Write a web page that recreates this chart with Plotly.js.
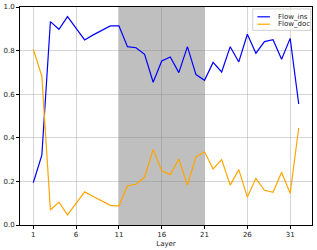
<!DOCTYPE html>
<html><head><meta charset="utf-8">
<script src="https://cdn.plot.ly/plotly-3.0.1.min.js"></script>
<style>html,body{margin:0;padding:0;background:#fff}</style>
</head><body><div id="chart" style="width:317px;height:250px"></div>
<script>
const layers = Array.from({length:32},(_,i)=>i+1);
const flowIns = [0.194,0.32,0.933,0.898,0.956,0.902,0.849,0.872,0.893,0.913,0.914,0.818,0.813,0.783,0.655,0.752,0.771,0.699,0.818,0.690,0.664,0.746,0.702,0.818,0.748,0.875,0.788,0.841,0.850,0.760,0.856,0.555];
const flowDoc = [0.806,0.683,0.069,0.105,0.046,0.099,0.152,0.131,0.110,0.090,0.087,0.180,0.187,0.220,0.347,0.249,0.231,0.303,0.183,0.312,0.336,0.257,0.300,0.183,0.254,0.128,0.214,0.159,0.150,0.242,0.145,0.445];
const seriesNames = ['Flow_ins','Flow_doc'];
const seriesColors = ['#0000ff','#ffa500'];
const tickVals = [1,6,11,16,21,26,31];
const yTicks = [0.0,0.2,0.4,0.6,0.8,1.0];
const yTickText = ['0.0','0.2','0.4','0.6','0.8','1.0'];
const shadeStart = 11, shadeEnd = 21;

const fnt = {family:'DejaVu Sans', size:7, color:'#222'};
const gridc = 'rgba(128,128,128,0.33)';

const shapes = [
  {type:'rect', xref:'x', yref:'paper', x0:shadeStart, x1:shadeEnd, y0:0, y1:1, fillcolor:'#bfbfbf', line:{width:0}, layer:'below'},
  {type:'rect', xref:'paper', yref:'paper', x0:0.797, x1:0.996, y0:0.893, y1:0.991, fillcolor:'rgba(255,255,255,0.85)', line:{color:'#d0d0d0', width:1}, layer:'above'}
];
const legY = [0.955, 0.921];
const annotations = [];
seriesNames.forEach((n,i)=>{
  shapes.push({type:'line', xref:'paper', yref:'paper', x0:0.813, x1:0.856, y0:legY[i], y1:legY[i], line:{color:seriesColors[i], width:1.2}, layer:'above'});
  annotations.push({xref:'paper', yref:'paper', x:0.877, y:legY[i], xanchor:'left', yanchor:'middle', text:n, showarrow:false, font:fnt});
});

Plotly.newPlot('chart', [
  {x:layers, y:flowIns, type:'scatter', mode:'lines', name:seriesNames[0], line:{color:seriesColors[0], width:1.2}},
  {x:layers, y:flowDoc, type:'scatter', mode:'lines', name:seriesNames[1], line:{color:seriesColors[1], width:1.2}}
], {
  width:317, height:250,
  margin:{l:20, r:5, t:7, b:25},
  paper_bgcolor:'#fff', plot_bgcolor:'#fff',
  font:fnt,
  showlegend:false,
  xaxis:{range:[-0.55,33.55], tickvals:tickVals, ticktext:tickVals.map(String), showgrid:true, gridcolor:gridc, gridwidth:1, zeroline:false, showline:true, linecolor:'#000', linewidth:1, mirror:true, ticks:'outside', ticklen:3, tickcolor:'#000', title:{text:'Layer', font:fnt, standoff:2}, automargin:false},
  yaxis:{range:[0,1], tickvals:yTicks, ticktext:yTickText, showgrid:true, gridcolor:gridc, gridwidth:1, zeroline:false, showline:true, linecolor:'#000', linewidth:1, mirror:true, ticks:'outside', ticklen:3, tickcolor:'#000', automargin:false},
  shapes:shapes,
  annotations:annotations
}, {displayModeBar:false, staticPlot:true});
</script></body></html>
